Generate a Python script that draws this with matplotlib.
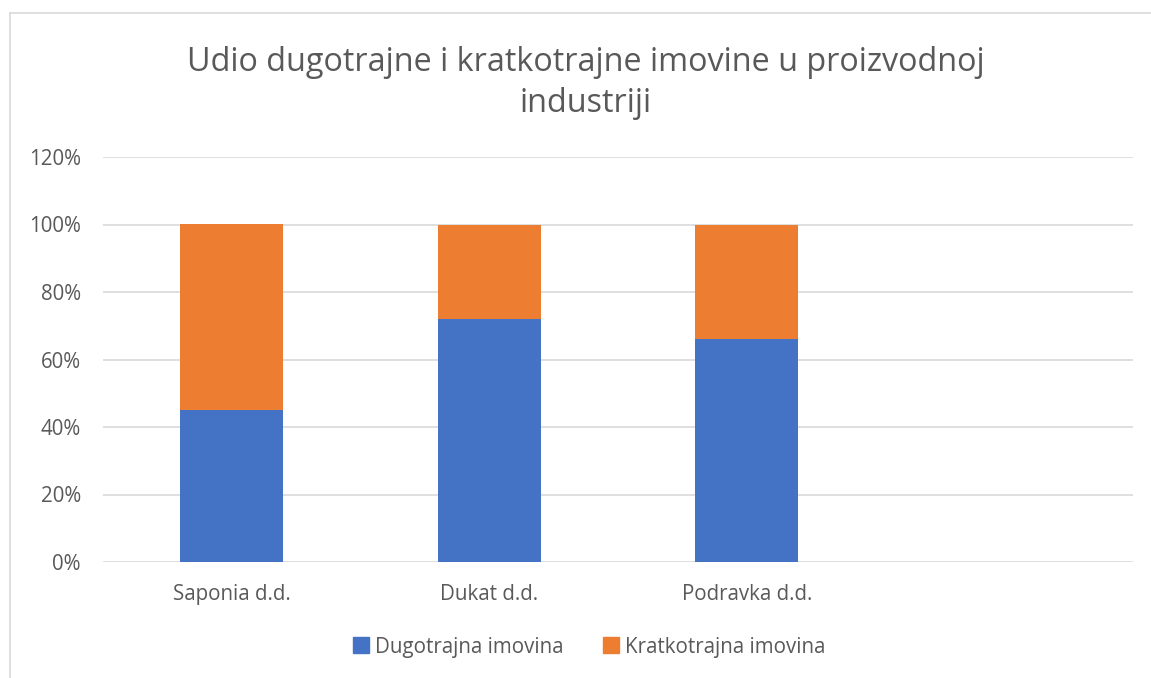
import matplotlib
matplotlib.use("Agg")
import matplotlib.pyplot as plt
from matplotlib.lines import Line2D

plt.rcParams['font.family'] = ['Open Sans', 'DejaVu Sans']

categories = ['Saponia d.d.', 'Dukat d.d.', 'Podravka d.d.', '']
dugotrajna = [0.45, 0.72, 0.66, 0.0]
kratkotrajna = [0.55, 0.28, 0.34, 0.0]
series_names = ['Dugotrajna imovina', 'Kratkotrajna imovina']
yticks = [0, 0.2, 0.4, 0.6, 0.8, 1.0, 1.2]

blue = '#4472C4'
orange = '#ED7D31'
grey = '#595959'
grid = '#D9D9D9'

fig = plt.figure(figsize=(11.51, 6.78), dpi=100)
ax = fig.add_axes([103/1151, 1 - 562/678, 1030/1151, 405/678])

x = range(len(categories))
ax.bar(x, dugotrajna, width=0.4, color=blue, zorder=2)
ax.bar(x, kratkotrajna, width=0.4, bottom=dugotrajna, color=orange, zorder=2)

ax.set_xlim(-0.5, 3.5)
ax.set_ylim(0, 1.2)
ax.set_yticks(yticks)
ax.set_yticklabels(['{:.0f}%'.format(v * 100) for v in yticks])
ax.set_xticks(list(x))
ax.set_xticklabels(categories)
ax.tick_params(axis='both', length=0, labelsize=14.8, colors=grey, labelcolor=grey)
ax.tick_params(axis='y', pad=16)
ax.tick_params(axis='x', pad=16)
ax.grid(axis='y', color=grid, linewidth=1.2, zorder=0)
for s in ax.spines.values():
    s.set_visible(False)

fig.text(586/1151, 1 - 83/678, 'Udio dugotrajne i kratkotrajne imovine u proizvodnoj\nindustriji',
         ha='center', va='center', fontsize=23.3, color=grey, linespacing=1.3)

handles = [Line2D([], [], marker='s', linestyle='', markersize=12, color=c) for c in (blue, orange)]
fig.legend(handles, series_names, loc='center', bbox_to_anchor=(588/1151, 1 - 647/678),
           ncol=2, frameon=False, fontsize=14.8, labelcolor=grey, handletextpad=0.2,
           columnspacing=1.8, handlelength=1.0)

# chart border (left and top visible)
fig.add_artist(Line2D([10/1151, 10/1151], [0, 1 - 13/678], color=grid, linewidth=1.2))
fig.add_artist(Line2D([10/1151, 1], [1 - 13/678, 1 - 13/678], color=grid, linewidth=1.2))

fig.savefig('out.png', dpi=100)
